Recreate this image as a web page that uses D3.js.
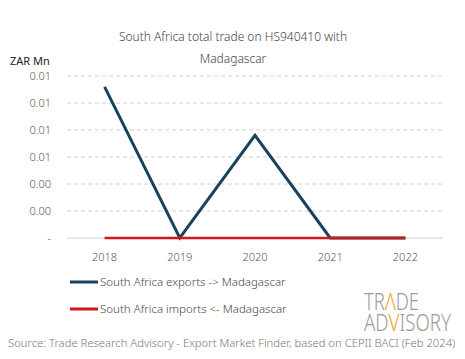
<!DOCTYPE html>
<html><head><meta charset="utf-8">
<script src="https://cdn.jsdelivr.net/npm/d3@7"></script>
<style>body{margin:0;background:#fff}svg{display:block}text{font-family:"Noto Sans",sans-serif}</style>
</head><body><svg id="c" width="465" height="359"></svg>
<script>
const years = ["2018","2019","2020","2021","2022"];
const exportsVals = [0.0112, 0, 0.0076, 0, 0];
const importsVals = [0, 0, 0, 0, 0];
const yTicks = [0, 0.002, 0.004, 0.006, 0.008, 0.010, 0.012];
const seriesNames = ["South Africa exports -> Madagascar", "South Africa imports <- Madagascar"];
const seriesColors = ["#17435c", "#d2161b"];

const svg = d3.select("#c");
const x = d3.scaleBand().domain(years).range([67, 443]);
const y = d3.scaleLinear().domain([0, 0.012]).range([238, 76]);

// title
svg.append("text").attr("x", 233).attr("y", 41).attr("text-anchor", "middle")
  .attr("font-size", 12).attr("font-weight", 300).attr("fill", "#444").text("South Africa total trade on HS940410 with");
svg.append("text").attr("x", 233).attr("y", 63).attr("text-anchor", "middle")
  .attr("font-size", 12).attr("font-weight", 300).attr("fill", "#444").text("Madagascar");
svg.append("text").attr("x", 10).attr("y", 65).attr("font-size", 11).attr("fill", "#222").text("ZAR Mn");

// grid
svg.append("g").selectAll("line").data(yTicks).join("line")
  .attr("x1", 67).attr("x2", 443).attr("y1", d => y(d)).attr("y2", d => y(d))
  .attr("stroke", "#d0d0d0").attr("stroke-width", 1)
  .attr("stroke-dasharray", d => d === 0 ? null : "4,3");

const fmt = d => d === 0 ? "-" : d3.format(".2f")(d);
svg.append("g").selectAll("text").data(yTicks).join("text")
  .attr("x", 51).attr("y", d => y(d) + 4).attr("text-anchor", "end")
  .attr("font-size", 11).attr("font-weight", 300).attr("fill", "#555").text(fmt);

// x axis labels
svg.append("g").selectAll("text").data(years).join("text")
  .attr("x", d => x(d) + x.bandwidth() / 2).attr("y", 261).attr("text-anchor", "middle")
  .attr("font-size", 11).attr("font-weight", 300).attr("fill", "#555").text(d => d);

const line = d3.line().x((d, i) => x(years[i]) + x.bandwidth() / 2).y(d => y(d));
svg.append("path").datum(exportsVals).attr("d", line).attr("fill", "none")
  .attr("stroke", seriesColors[0]).attr("stroke-width", 3);
svg.append("path").datum(importsVals).attr("d", line).attr("fill", "none")
  .attr("stroke", seriesColors[1]).attr("stroke-width", 2.5);

// legend
seriesNames.forEach((n, i) => {
  const ly = 282 + i * 27;
  svg.append("line").attr("x1", 70).attr("x2", 98).attr("y1", ly).attr("y2", ly)
    .attr("stroke", seriesColors[i]).attr("stroke-width", 3);
  svg.append("text").attr("x", 100).attr("y", ly + 4).attr("font-size", 11.5).attr("font-weight", 300)
    .attr("fill", "#444").text(n);
});

// logo: pieces placed side by side
function logoRow(parts, x0, yb, width, size) {
  const g = svg.append("g");
  const nodes = parts.map(p => g.append("text").attr("y", yb).attr("font-family", "Roboto")
    .attr("font-weight", 300).attr("font-size", size).attr("fill", p[1]).text(p[0]));
  const widths = nodes.map(n => n.node().getComputedTextLength());
  const total = d3.sum(widths);
  const k = width / total;
  let cx = x0;
  nodes.forEach((n, i) => {
    n.attr("transform", `translate(${cx},0) scale(${k},1)`).attr("x", 0);
    cx += widths[i] * k;
  });
}
logoRow([["TR", "#9a9a9a"], ["Λ", "#f0a020"], ["DE", "#9a9a9a"]], 364, 310, 55, 23);
logoRow([["AD", "#9a9a9a"], ["V", "#f0a020"], ["ISORY", "#9a9a9a"]], 364, 331, 87, 23);

// source
const src = svg.append("text").attr("x", 8).attr("y", 347).attr("font-size", 11.5).attr("font-weight", 300).attr("fill", "#777")
  .text("Source: Trade Research Advisory - Export Market Finder, based on CEPII BACI (Feb 2024)");
const w = src.node().getComputedTextLength();
src.attr("font-size", 11.5 * 448 / w);
</script></body></html>
